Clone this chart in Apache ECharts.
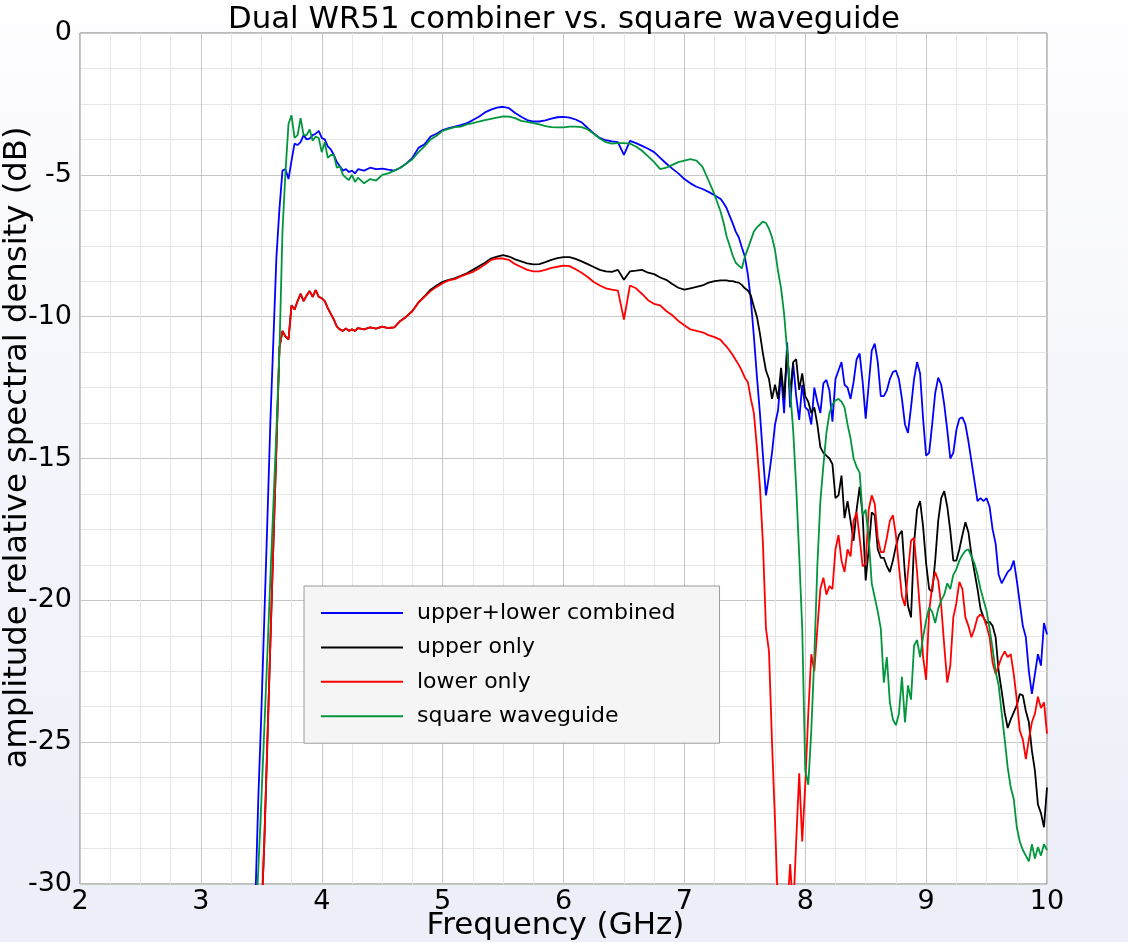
<!DOCTYPE html>
<html>
<head>
<meta charset="utf-8">
<script src="https://cdn.jsdelivr.net/npm/echarts@6/dist/echarts.min.js"></script>
<style>
html,body{margin:0;padding:0;}
body{width:1128px;height:942px;background:linear-gradient(to bottom,#fefeff 0%,#f4f5fb 50%,#eceef8 100%);}
#chart{width:1128px;height:942px;}
</style>
</head>
<body>
<div id="chart"></div>
<script>
const titleText = 'Dual WR51 combiner vs. square waveguide';
const xName = 'Frequency (GHz)';
const yName = 'amplitude relative spectral density (dB)';
const seriesNames = ['upper+lower combined', 'upper only', 'lower only', 'square waveguide'];

const freq = [
 3.4,3.425,3.45,3.475,3.5,3.525,3.55,3.575,
 3.6,3.625,3.65,3.675,3.7,3.725,3.75,3.775,
 3.8,3.825,3.85,3.875,3.9,3.925,3.95,3.975,
 4.0,4.025,4.05,4.075,4.1,4.125,4.15,4.175,
 4.2,4.225,4.25,4.275,4.3,
 4.35,4.4,4.45,4.5,4.55,4.6,4.65,4.7,4.75,4.8,
 4.85,4.9,4.95,5.0,5.05,5.1,5.15,5.2,5.25,5.3,
 5.35,5.4,5.45,5.5,5.55,5.6,5.65,5.7,5.75,5.8,
 5.85,5.9,5.95,6.0,6.05,6.1,6.15,6.2,6.25,6.3,
 6.35,6.4,6.45,6.5,6.55,6.6,6.65,6.7,6.75,6.8,
 6.85,6.9,6.95,7.0,7.05,7.1,7.15,7.2,7.25,7.3,
 7.325,7.35,7.375,7.4, 7.425,7.45,7.475,7.5, 7.525,7.55,7.575,7.6, 7.625,7.65,7.675,7.7, 7.725,7.75,7.775,7.8,
 7.825,7.85,7.875,7.9, 7.925,7.95,7.975,8.0, 8.025,8.05,8.075,8.1, 8.125,8.15,8.175,8.2, 8.225,8.25,8.275,8.3,
 8.325,8.35,8.375,8.4, 8.425,8.45,8.475,8.5, 8.525,8.55,8.575,8.6, 8.625,8.65,8.675,8.7, 8.725,8.75,8.775,8.8,
 8.825,8.85,8.875,8.9, 8.925,8.95,8.975,9.0, 9.025,9.05,9.075,9.1, 9.125,9.15,9.175,9.2, 9.225,9.25,9.275,9.3,
 9.325,9.35,9.375,9.4, 9.425,9.45,9.475,9.5, 9.525,9.55,9.575,9.6, 9.625,9.65,9.675,9.7, 9.725,9.75,9.775,9.8,
 9.825,9.85,9.875,9.9, 9.925,9.95,9.975,10.0
];

const upperLower = [
 -36,-33.5,-30.7,-27.0,-24.0,-20.6,-17.2,-13.7,
 -10.8,-7.9,-6.2,-4.85,-4.8,-5.15,-4.5,-3.9,
 -3.95,-3.85,-3.6,-3.75,-3.72,-3.6,-3.55,-3.45,
 -3.7,-3.75,-4.0,-4.1,-4.3,-4.55,-4.7,-4.85,
 -4.8,-4.9,-4.85,-4.95,-4.8,
 -4.85,-4.75,-4.8,-4.78,-4.82,-4.85,-4.75,-4.6,-4.4,-4.05,
 -3.92,-3.65,-3.55,-3.42,-3.35,-3.3,-3.25,-3.18,-3.07,-2.95,
 -2.8,-2.7,-2.63,-2.6,-2.65,-2.82,-2.95,-3.07,-3.12,-3.12,
 -3.08,-3.02,-2.97,-2.96,-2.98,-3.05,-3.15,-3.35,-3.54,-3.7,
 -3.78,-3.82,-3.85,-4.3,-3.8,-3.88,-3.98,-4.08,-4.2,-4.4,
 -4.6,-4.78,-4.95,-5.15,-5.3,-5.42,-5.5,-5.6,-5.72,-5.85,
 -6.0,-6.18,-6.45,-6.71, -7.0,-7.2,-7.55,-7.88, -8.5,-9.41,-10.7,-12.1, -13.4,-14.9,-16.3,-15.6, -14.8,-13.8,-13.3,-12.0,
 -13.4,-10.9,-13.2,-11.64, -12.8,-13.64,-12.4,-13.2, -13.3,-13.8,-12.5,-13.0, -13.4,-12.35,-12.23,-12.6, -13.7,-12.2,-11.9,-11.6,
 -12.4,-12.5,-12.9,-12.3, -11.5,-11.3,-12.3,-13.6, -12.4,-11.2,-10.95,-11.6, -12.8,-12.8,-12.6,-12.2, -11.95,-11.9,-12.2,-12.9,
 -13.8,-14.1,-13.2,-12.2, -11.6,-12.0,-13.6,-14.9, -14.8,-13.8,-12.7,-12.15, -12.4,-13.1,-14.0,-15.0, -14.8,-14.0,-13.6,-13.55,
 -13.8,-14.4,-15.1,-15.8, -16.5,-16.4,-16.5,-16.4, -16.7,-17.5,-18.0,-19.1, -19.4,-19.2,-19.0,-18.9, -18.6,-19.3,-20.1,-20.9,
 -21.3,-22.5,-23.3,-22.6, -21.9,-22.3,-20.8,-21.2
];

const upperOnly = [
 -38,-37,-36,-34,-31.3,-28.5,-25.0,-21.5,
 -18.0,-14.6,-11.1,-10.5,-10.7,-10.8,-9.6,-9.75,
 -9.45,-9.2,-9.45,-9.25,-9.1,-9.3,-9.06,-9.3,
 -9.35,-9.45,-9.7,-9.9,-10.1,-10.35,-10.45,-10.5,
 -10.42,-10.5,-10.45,-10.5,-10.4,
 -10.45,-10.38,-10.42,-10.35,-10.4,-10.38,-10.15,-10.0,-9.8,-9.5,
 -9.28,-9.05,-8.9,-8.77,-8.7,-8.65,-8.56,-8.47,-8.35,-8.22,
 -8.1,-7.95,-7.88,-7.83,-7.88,-7.98,-8.05,-8.12,-8.16,-8.15,
 -8.08,-8.0,-7.94,-7.9,-7.9,-7.96,-8.05,-8.15,-8.25,-8.35,
 -8.4,-8.42,-8.35,-8.7,-8.4,-8.38,-8.35,-8.45,-8.5,-8.62,
 -8.7,-8.85,-8.98,-9.05,-9.0,-8.95,-8.9,-8.8,-8.75,-8.72,
 -8.72,-8.72,-8.75,-8.75, -8.78,-8.8,-8.88,-9.0, -9.08,-9.25,-9.65,-10.0, -10.6,-11.3,-11.9,-12.2, -12.9,-12.4,-12.9,-11.8,
 -12.9,-11.2,-12.7,-11.6, -11.5,-12.58,-12.0,-12.8, -13.0,-13.4,-13.2,-13.8, -14.6,-14.8,-14.9,-15.0, -15.2,-16.4,-16.3,-15.6,
 -17.1,-16.5,-17.2,-17.9, -16.8,-16.0,-17.0,-19.3, -18.2,-16.9,-17.0,-18.2, -18.5,-18.5,-18.8,-19.0, -18.6,-18.1,-17.7,-17.55,
 -19.1,-20.2,-20.6,-18.0, -16.8,-16.5,-17.4,-18.7, -19.6,-19.7,-18.6,-17.2, -16.4,-16.15,-16.7,-17.55, -18.6,-18.6,-18.2,-17.7,
 -17.25,-17.6,-18.4,-19.0, -19.6,-20.3,-20.6,-20.8, -20.76,-20.9,-21.3,-22.5, -23.2,-23.96,-24.5,-24.2, -23.95,-23.7,-23.3,-23.35,
 -23.9,-24.3,-25.3,-26.0, -27.2,-27.5,-28.0,-26.6
];

const lowerOnly = [
 -38,-37,-36,-34,-31.3,-28.5,-25.0,-21.5,
 -18.0,-14.6,-11.1,-10.5,-10.7,-10.8,-9.6,-9.75,
 -9.45,-9.2,-9.45,-9.25,-9.1,-9.3,-9.06,-9.3,
 -9.35,-9.45,-9.7,-9.9,-10.1,-10.35,-10.45,-10.5,
 -10.42,-10.5,-10.45,-10.5,-10.4,
 -10.45,-10.38,-10.42,-10.35,-10.4,-10.38,-10.15,-10.0,-9.8,-9.5,
 -9.3,-9.1,-8.95,-8.82,-8.72,-8.68,-8.58,-8.5,-8.42,-8.3,
 -8.16,-8.0,-7.95,-7.95,-8.0,-8.15,-8.25,-8.35,-8.4,-8.4,
 -8.35,-8.28,-8.24,-8.2,-8.22,-8.33,-8.45,-8.6,-8.78,-8.9,
 -9.0,-9.05,-9.08,-10.1,-8.9,-9.0,-9.2,-9.42,-9.55,-9.6,
 -9.8,-9.95,-10.15,-10.3,-10.45,-10.5,-10.55,-10.65,-10.72,-10.82,
 -10.95,-11.06,-11.2,-11.35, -11.53,-11.7,-11.9,-12.15, -12.3,-12.9,-13.4,-14.6, -16.0,-18.0,-21.0,-21.8, -25.0,-27.8,-31,-31,
 -31,-31,-29.3,-31, -28.5,-26.1,-28.5,-26.5, -24.0,-21.9,-22.5,-21.0, -19.6,-19.2,-19.8,-19.5, -19.6,-18.2,-17.7,-18.6,
 -19.0,-18.2,-18.45,-17.2, -16.9,-17.8,-18.8,-18.7, -16.8,-16.3,-16.6,-17.8, -18.3,-18.3,-17.8,-17.2, -17.0,-17.7,-18.8,-19.86,
 -20.2,-19.0,-17.9,-17.8, -19.0,-20.37,-22.0,-22.8, -20.4,-19.5,-19.0,-19.3, -20.2,-21.6,-22.9,-22.3, -20.6,-20.1,-19.35,-19.6,
 -20.6,-20.9,-21.3,-21.0, -20.6,-20.5,-20.6,-20.9, -21.3,-22.2,-22.6,-22.3, -22.0,-21.8,-22.0,-21.9, -22.6,-23.5,-24.6,-24.9,
 -25.6,-24.9,-24.3,-24.0, -23.4,-23.8,-23.6,-24.7
];

const squareWG = [
 -36,-34,-31.8,-29.5,-27.1,-24.5,-21.9,-19.2,
 -16.6,-14.0,-11.2,-7.0,-4.9,-3.2,-2.9,-3.7,
 -3.6,-3.0,-3.6,-3.6,-3.4,-3.8,-3.65,-3.7,
 -4.2,-3.85,-4.4,-4.3,-4.3,-4.75,-4.7,-5.0,
 -5.1,-5.18,-5.0,-5.25,-5.1,
 -5.3,-5.15,-5.2,-5.0,-4.95,-4.85,-4.75,-4.6,-4.45,-4.2,
 -4.0,-3.75,-3.62,-3.45,-3.38,-3.32,-3.3,-3.22,-3.18,-3.12,
 -3.07,-3.03,-2.98,-2.94,-2.95,-3.0,-3.1,-3.13,-3.18,-3.22,
 -3.28,-3.32,-3.33,-3.33,-3.3,-3.3,-3.32,-3.4,-3.55,-3.72,
 -3.85,-3.9,-3.88,-3.88,-3.9,-4.0,-4.15,-4.35,-4.55,-4.8,
 -4.75,-4.65,-4.55,-4.5,-4.45,-4.5,-4.72,-5.2,-5.7,-6.3,
 -6.7,-7.18,-7.5,-7.85, -8.1,-8.2,-8.3,-7.9, -7.6,-7.3,-7.0,-6.85, -6.75,-6.65,-6.7,-6.9, -7.2,-7.65,-8.4,-9.0,
 -9.9,-11.2,-12.6,-14.0, -16.0,-18.4,-21.0,-26.0, -26.5,-24.6,-22.0,-18.8, -16.5,-15.25,-14.1,-13.4, -13.1,-12.95,-12.9,-13.0,
 -13.2,-13.8,-14.3,-15.0, -15.3,-15.5,-17.0,-16.8, -17.8,-19.4,-19.9,-20.4, -21.0,-22.9,-22.0,-23.6, -24.2,-24.4,-24.0,-22.7,
 -24.3,-23.0,-23.5,-21.6, -21.4,-22.0,-21.3,-20.7, -20.25,-20.4,-20.8,-20.3, -20.0,-19.8,-19.4,-19.6, -19.1,-18.9,-18.6,-18.4,
 -18.25,-18.2,-18.45,-18.7, -19.1,-19.6,-20.0,-20.37, -21.0,-21.7,-22.5,-23.0, -23.96,-24.9,-25.9,-26.6, -27.0,-28.0,-28.5,-28.8,
 -29.0,-29.2,-28.6,-29.1, -28.7,-29.0,-28.6,-28.8
];

const seriesValues = [upperLower, upperOnly, lowerOnly, squareWG];
const seriesColors = ['#0000ff', '#000000', '#ff0000', '#00963c'];

seriesValues.forEach(function (arr, k) {
  if (arr.length !== freq.length) {
    throw new Error('length mismatch for ' + seriesNames[k] + ': ' + arr.length + ' vs ' + freq.length);
  }
});

const FONT = 'DejaVu Sans';
const chart = echarts.init(document.getElementById('chart'), null, {renderer: 'canvas'});

const option = {
  animation: false,
  backgroundColor: 'transparent',
  title: {
    text: titleText,
    left: 'center',
    top: -1,
    textStyle: {fontFamily: FONT, fontSize: 30.8, fontWeight: 'normal', color: '#000'},
    padding: [5, 9, 5, 5]
  },
  grid: {
    left: 80, right: 81, top: 33, bottom: 58,
    containLabel: false,
    outerBoundsMode: 'none',
    show: true, backgroundColor: '#ffffff', borderColor: '#7a7a7a', borderWidth: 1
  },
  legend: {
    data: seriesNames,
    orient: 'vertical',
    left: 304,
    top: 586,
    icon: 'rect',
    itemWidth: 82,
    itemHeight: 2,
    itemGap: 8.4,
    padding: [14, 44, 14, 17],
    backgroundColor: '#f5f5f5',
    borderColor: '#9a9a9a',
    borderWidth: 1,
    textStyle: {fontFamily: FONT, fontSize: 22, color: '#000', lineHeight: 26, padding: [0, 0, 0, 9]}
  },
  xAxis: {
    type: 'value',
    min: 2, max: 10, interval: 1,
    name: xName,
    nameLocation: 'middle',
    nameGap: 26,
    nameMoveOverlap: false,
    nameTextStyle: {fontFamily: FONT, fontSize: 31, color: '#000', padding: [0, 16, 0, 0]},
    axisLine: {show: false},
    axisTick: {show: false},
    axisLabel: {fontFamily: FONT, fontSize: 27, color: '#000', margin: 4},
    splitLine: {show: true, lineStyle: {color: '#c6c6c6', width: 1}},
    minorTick: {show: false, splitNumber: 4},
    minorSplitLine: {show: true, lineStyle: {color: '#e6e6e6', width: 1}}
  },
  yAxis: {
    type: 'value',
    min: -30, max: 0, interval: 5,
    name: yName,
    nameLocation: 'middle',
    nameGap: 46,
    nameMoveOverlap: false,
    nameTextStyle: {fontFamily: FONT, fontSize: 32.3, color: '#000', padding: [0, 0, 0, 22]},
    axisLine: {show: false},
    axisTick: {show: false},
    axisLabel: {fontFamily: FONT, fontSize: 27, color: '#000', margin: 8},
    splitLine: {show: true, lineStyle: {color: '#c6c6c6', width: 1}},
    minorTick: {show: false, splitNumber: 4},
    minorSplitLine: {show: true, lineStyle: {color: '#e6e6e6', width: 1}}
  },
  series: seriesNames.map(function (name, k) {
    return {
      name: name,
      type: 'line',
      data: freq.map(function (f, i) { return [f, seriesValues[k][i]]; }),
      symbol: 'none',
      showSymbol: false,
      clip: true,
      color: seriesColors[k],
      lineStyle: {color: seriesColors[k], width: 1.8},
      z: 2 + k
    };
  })
};

chart.setOption(option);
</script>
</body>
</html>
